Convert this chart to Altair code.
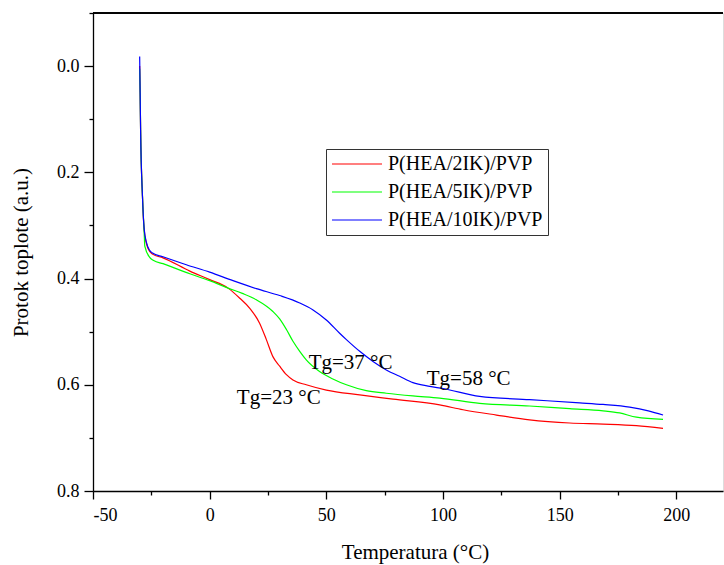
import altair as alt
import pandas as pd

series_names = ["P(HEA/2IK)/PVP", "P(HEA/5IK)/PVP", "P(HEA/10IK)/PVP"]
series_colors = ["#ff0000", "#00ff00", "#0000ff"]

red_x = [-30.0, -29.8, -29.6, -28.8, -28.1, -27.1, -25.7, -24.5, -20, -8.5, 0, 7.9, 12.9, 17.2,
         21.4, 24.3, 27.1, 30, 32.9, 35.7, 41.4, 50, 64.3, 78.6, 98.6, 108.6, 122.9, 137.1,
         154.3, 168.6, 182.9, 194.3]
red_y = [0.0, 0.05, 0.12, 0.245, 0.307, 0.334, 0.349, 0.354, 0.361, 0.386, 0.402, 0.418, 0.437, 0.456,
         0.484, 0.515, 0.547, 0.565, 0.581, 0.591, 0.600, 0.610, 0.619, 0.627, 0.638, 0.647, 0.657, 0.666,
         0.672, 0.674, 0.677, 0.682]

green_x = [-30.0, -29.8, -29.6, -28.8, -28.1, -27.8, -25.7, -24.0, -20, -8.5, 0, 7.9, 14, 20,
           27.1, 30, 32.9, 35.7, 38.6, 41.4, 47.1, 52.8, 58.6, 67.1, 75.7, 87.1, 98.6, 115.7,
           137.1, 154.3, 168.6, 175.7, 182.9, 194.3]
green_y = [0.005, 0.05, 0.12, 0.245, 0.31, 0.339, 0.360, 0.366, 0.372, 0.391, 0.404, 0.418, 0.428, 0.440,
           0.462, 0.476, 0.496, 0.518, 0.537, 0.553, 0.575, 0.589, 0.600, 0.611, 0.616, 0.621, 0.625, 0.635,
           0.640, 0.645, 0.649, 0.653, 0.661, 0.665]

blue_x = [-30.0, -29.8, -29.6, -28.8, -28.1, -27.1, -25.7, -24.5, -20, -10, 0, 10, 20, 30, 38.6,
          44.3, 50, 55.7, 58.6, 64.3, 70, 75.7, 81.4, 87.1, 94.3, 100, 115.7, 137.1, 158.6,
          168.6, 180, 188, 194.3]
blue_y = [-0.018, 0.05, 0.12, 0.245, 0.305, 0.332, 0.347, 0.352, 0.359, 0.374, 0.388, 0.404, 0.419,
          0.432, 0.446, 0.459, 0.478, 0.503, 0.515, 0.537, 0.556, 0.572, 0.584, 0.596, 0.603, 0.607,
          0.622, 0.628, 0.634, 0.637, 0.642, 0.649, 0.657]

annot_text = ["Tg=23 °C", "Tg=37 °C", "Tg=58 °C"]
annot_x = [29.6, 60.4, 111.0]
annot_y = [0.636, 0.570, 0.600]

x_ticks = [-50, -25, 0, 25, 50, 75, 100, 125, 150, 175, 200]
y_ticks = [-0.1, 0.0, 0.1, 0.2, 0.3, 0.4, 0.5, 0.6, 0.7, 0.8]

rows = []
for name, xs, ys in zip(series_names, [red_x, green_x, blue_x], [red_y, green_y, blue_y]):
    for xv, yv in zip(xs, ys):
        rows.append({"series": name, "T": xv, "Q": yv})
df = pd.DataFrame(rows)
ann = pd.DataFrame({"text": annot_text, "T": annot_x, "Q": annot_y})

FONT = "Liberation Serif"

x_scale = alt.Scale(domain=[-50, 220], nice=False, zero=False)
y_scale = alt.Scale(domain=[-0.1, 0.8], reverse=True, nice=False, zero=False)

x_axis = alt.Axis(
    values=x_ticks,
    labelExpr="datum.value % 50 == 0 ? '' + datum.value : ''",
    tickSize={"condition": {"test": "datum.value % 50 == 0", "value": 8}, "value": 4},
    grid=False, domainColor="black", tickColor="black", domainWidth=1.3, tickWidth=1.3,
    labelFont=FONT, labelFontSize=18, labelColor="black", labelPadding=7,
    title="Temperatura (°C)", titleFont=FONT, titleFontSize=21, titleFontWeight="normal",
    titleColor="black", titleBaseline="alphabetic", titleY=67, titleX=322,
)
y_axis = alt.Axis(
    values=y_ticks,
    labelExpr="round(datum.value*10) % 2 == 0 ? format(datum.value, '.1f') : ''",
    tickSize={"condition": {"test": "round(datum.value*10) % 2 == 0", "value": 9}, "value": 4},
    grid=False, domainColor="black", tickColor="black", domainWidth=1.3, tickWidth=1.3,
    labelFont=FONT, labelFontSize=18, labelColor="black", labelPadding=5,
    title="Protok toplote (a.u.)", titleFont=FONT, titleFontSize=21, titleFontWeight="normal",
    titleColor="black", titleBaseline="alphabetic", titleX=-66,
)

lines = alt.Chart(df).mark_line(strokeWidth=1.2, interpolate="monotone").encode(
    x=alt.X("T:Q", scale=x_scale, axis=x_axis),
    y=alt.Y("Q:Q", scale=y_scale, axis=y_axis),
    color=alt.Color(
        "series:N",
        scale=alt.Scale(domain=series_names, range=series_colors),
        sort=series_names,
        legend=alt.Legend(
            title=None, orient="none", legendX=233, legendY=136,
            symbolType="stroke", symbolSize=2500, symbolStrokeWidth=1.2,
            clipHeight=20, rowPadding=8, padding=5, labelOffset=5,
            labelFont=FONT, labelFontSize=20, labelColor="black",
            strokeColor="#333333", fillColor="white",
        ),
    ),
    detail="series:N",
)

texts = alt.Chart(ann).mark_text(
    font=FONT, fontSize=21, align="center", baseline="alphabetic", color="black"
).encode(x=alt.X("T:Q", scale=x_scale), y=alt.Y("Q:Q", scale=y_scale), text="text:N")

frame_top = alt.Chart(ann).mark_rule(color="black", strokeWidth=1.3).encode(
    x=alt.value(0), x2=alt.value(630), y=alt.value(0)
)

chart = alt.layer(lines, texts, frame_top).properties(
    width=630, height=478,
    autosize=alt.AutoSizeParams(type="none"),
    padding={"left": 93, "top": 13, "right": 1, "bottom": 74},
).configure_view(stroke=None).configure(background="white")

chart.save("out.html", embed_options={"renderer": "svg", "actions": False})
